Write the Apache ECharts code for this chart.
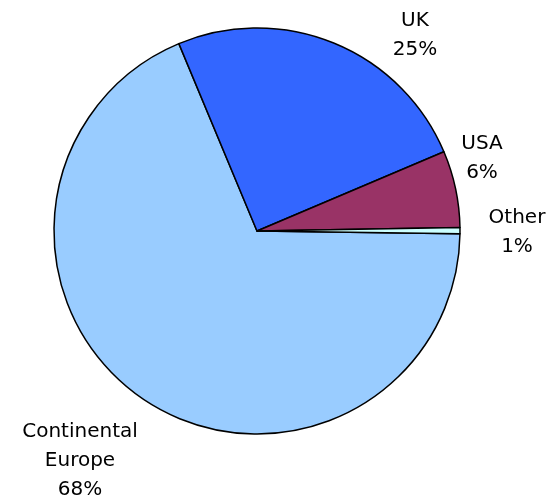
<!DOCTYPE html>
<html>
<head>
<meta charset="utf-8">
<script src="https://cdn.jsdelivr.net/npm/echarts@6/dist/echarts.min.js"></script>
<style>
html,body{margin:0;padding:0;background:#fff;}
#chart{width:556px;height:502px;}
</style>
</head>
<body>
<div id="chart"></div>
<script>
// Data
var categories = ['Continental\nEurope', 'UK', 'USA', 'Other'];
var shares = [68.49, 24.91, 6.1, 0.5];
var sliceColors = ['#99CCFF', '#3366FF', '#993366', '#CCFFFF'];

var labelSpots = [[80, 461], [415, 35.5], [482, 158], [517, 232]];

var chart = echarts.init(document.getElementById('chart'), null, {renderer: 'canvas'});
chart.setOption({
  backgroundColor: '#ffffff',
  animation: false,
  series: [{
    type: 'pie',
    center: [257, 231],
    radius: [0, 203],
    startAngle: -0.8,
    clockwise: true,
    avoidLabelOverlap: false,
    data: categories.map(function (c, i) {
      return {name: c, value: shares[i], itemStyle: {color: sliceColors[i]}};
    }),
    itemStyle: {borderColor: '#000000', borderWidth: 1.5},
    emphasis: {disabled: true},
    label: {
      show: true,
      position: 'outside',
      fontFamily: 'DejaVu Sans',
      fontSize: 20,
      lineHeight: 29,
      color: '#000000',
      align: 'center',
      formatter: function (p) { return p.name + '\n' + Math.round(p.percent) + '%'; }
    },
    labelLine: {show: false},
    labelLayout: function (params) {
      var s = labelSpots[params.dataIndex];
      return {x: s[0], y: s[1], align: 'center', verticalAlign: 'middle'};
    }
  }]
});
</script>
</body>
</html>
